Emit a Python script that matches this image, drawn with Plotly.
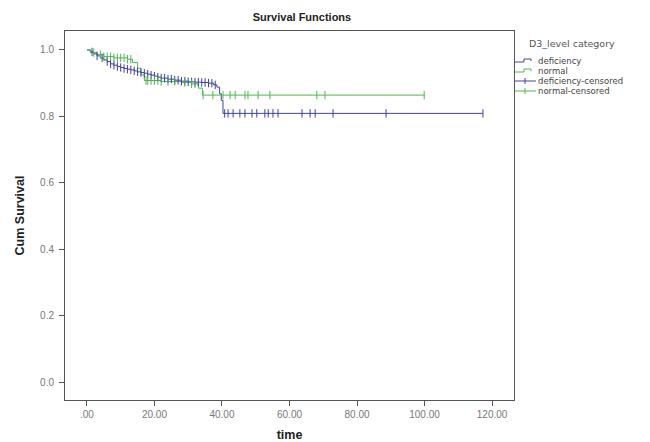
import plotly.graph_objects as go
import numpy as np

# ---- data ----
def_times = [0, 1, 2, 3, 4, 5, 6, 7, 8, 9, 10, 11, 12, 13, 14, 15, 16, 17, 18, 19,
             20, 21, 22, 24, 26, 28, 30, 32, 34, 36, 37.5, 38.5, 39.3, 39.8, 40.3]
def_surv = [1.0, 0.994, 0.988, 0.982, 0.976, 0.970, 0.965, 0.958, 0.954, 0.950, 0.947, 0.944, 0.942, 0.940, 0.937, 0.934, 0.932, 0.930, 0.927, 0.924,
            0.921, 0.918, 0.915, 0.912, 0.909, 0.906, 0.904, 0.903, 0.902, 0.900, 0.895, 0.888, 0.868, 0.848, 0.809]
def_cens = [1.5, 3, 4.5, 6, 7, 8, 9, 10, 11, 12, 13, 14, 15, 16, 17, 18, 19, 20, 21, 22,
            23, 24, 25, 26, 27, 28, 29, 30, 31, 32, 33, 34, 35, 36, 37, 38,
            40.8, 41.8, 43.3, 45.3, 46.8, 48.9, 50.3, 52.7, 53.7, 55.1, 56.6,
            63.7, 66.1, 67.6, 72.9, 88.6, 117.3]

nor_times = [0, 1, 3, 5, 8, 12, 13.5, 15, 16, 17, 22, 28, 31, 33, 34.2]
nor_surv = [1.0, 0.992, 0.986, 0.980, 0.976, 0.972, 0.962, 0.945, 0.925, 0.908, 0.905, 0.902, 0.898, 0.885, 0.864]
nor_cens = [2, 4, 5, 6, 7, 8, 9, 10, 11, 12, 13, 17.5, 18, 19, 20, 21, 22, 24, 26, 29, 31, 32,
            34.4, 37.3, 40.3, 42.4, 43.9, 46.8, 47.7, 50.7, 54.2, 68.1, 70.5, 99.9]

x_tickvals = [0, 20, 40, 60, 80, 100, 120]
x_ticktext = [".00", "20.00", "40.00", "60.00", "80.00", "100.00", "120.00"]
y_tickvals = [0.0, 0.2, 0.4, 0.6, 0.8, 1.0]
y_ticktext = ["0.0", "0.2", "0.4", "0.6", "0.8", "1.0"]

legend_title = "D3_level category"
legend_names = ["deficiency", "normal", "deficiency-censored", "normal-censored"]

BLUE = "#4040a2"
GREEN = "#52b552"
FONT = "Liberation Sans, Arial, sans-serif"

# figure size (page has an 8px body margin inside the 650x442 window)
W, H = 642, 434
L, R, T, B = 57, 136, 23, 42
PW, PH = W - L - R, H - T - B


def px(x):  # figure pixel -> paper x
    return (x - L) / PW


def py(y):  # figure pixel (from top) -> paper y
    return (H - B - y) / PH


def step_at(times, surv, t):
    idx = np.searchsorted(np.array(times), t, side="right") - 1
    return surv[max(idx, 0)]


def curve(times, surv, cens):
    end = max(max(times), max(cens))
    return list(times) + [end], list(surv) + [surv[-1]]


fig = go.Figure()

dx, dy = curve(def_times, def_surv, def_cens)
fig.add_trace(go.Scatter(x=dx, y=dy, mode="lines", line=dict(color=BLUE, width=1, shape="hv"),
                         name=legend_names[0]))
nx, ny = curve(nor_times, nor_surv, nor_cens)
fig.add_trace(go.Scatter(x=nx, y=ny, mode="lines", line=dict(color=GREEN, width=1, shape="hv"),
                         name=legend_names[1]))
fig.add_trace(go.Scatter(x=def_cens, y=[step_at(def_times, def_surv, t) for t in def_cens],
                         mode="markers", name=legend_names[2],
                         marker=dict(symbol="line-ns-open", size=6, color=BLUE,
                                     line=dict(color=BLUE, width=1))))
fig.add_trace(go.Scatter(x=nor_cens, y=[step_at(nor_times, nor_surv, t) for t in nor_cens],
                         mode="markers", name=legend_names[3],
                         marker=dict(symbol="line-ns-open", size=6, color=GREEN,
                                     line=dict(color=GREEN, width=1))))

axis_common = dict(showline=True, linecolor="#555", linewidth=1, mirror=True, ticks="outside",
                   ticklen=5, tickcolor="#555", showgrid=False, zeroline=False,
                   automargin=False,
                   tickfont=dict(family=FONT, size=10, color="#777"))

# ---- manual legend (compact, like the reference) ----
shapes = []
annotations = [dict(text=legend_title, xref="paper", yref="paper", x=px(519), y=py(36),
                    xanchor="left", yanchor="middle", showarrow=False,
                    font=dict(family="DejaVu Sans", size=9.5, color="#555"))]
item_y = [53, 63, 73, 83]
colors = [BLUE, GREEN, BLUE, GREEN]
for i, (name, yy, c) in enumerate(zip(legend_names, item_y, colors)):
    if i < 2:
        path = (f"M {px(507)},{py(yy + 1)} L {px(516)},{py(yy + 1)} L {px(516)},{py(yy - 2)} "
                f"L {px(523)},{py(yy - 2)} L {px(523)},{py(yy)}")
        shapes.append(dict(type="path", path=path, xref="paper", yref="paper",
                           line=dict(color=c, width=1)))
    else:
        shapes.append(dict(type="line", xref="paper", yref="paper", x0=px(507), x1=px(528),
                           y0=py(yy), y1=py(yy), line=dict(color=c, width=1)))
        shapes.append(dict(type="line", xref="paper", yref="paper", x0=px(517), x1=px(517),
                           y0=py(yy - 3), y1=py(yy + 3), line=dict(color=c, width=1)))
    annotations.append(dict(text=name, xref="paper", yref="paper", x=px(528), y=py(yy),
                            xanchor="left", yanchor="middle", showarrow=False,
                            font=dict(family="DejaVu Sans", size=8.5, color="#444")))

fig.update_layout(
    width=W, height=H,
    paper_bgcolor="white", plot_bgcolor="white",
    margin=dict(l=L, r=R, t=T, b=B, autoexpand=False),
    title=dict(text="<b>Survival Functions</b>", x=294 / W, xanchor="center",
               y=1 - 9 / H, yanchor="middle",
               font=dict(family=FONT, size=11, color="#222")),
    xaxis=dict(range=[-6.5, 126.5], tickvals=x_tickvals, ticktext=x_ticktext,
               ticklabelstandoff=0,
               title=dict(text="<b>time</b>", standoff=15,
                          font=dict(family=FONT, size=12.5, color="#222")),
               **axis_common),
    yaxis=dict(range=[-0.054, 1.057], tickvals=y_tickvals, ticktext=y_ticktext,
               ticklabelstandoff=3,
               title=dict(text="<b>Cum Survival</b>", standoff=12,
                          font=dict(family=FONT, size=12.5, color="#222")),
               **axis_common),
    showlegend=False,
    shapes=shapes,
    annotations=annotations,
)

fig.write_html("out.html")
